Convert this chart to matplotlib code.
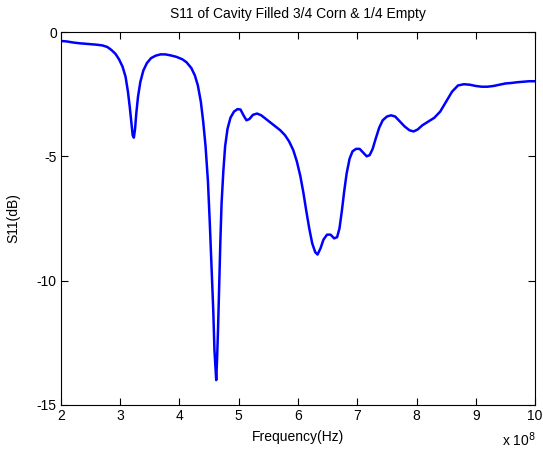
import numpy as np
import matplotlib.pyplot as plt
from matplotlib.ticker import FuncFormatter

# S11 sweep, frequency in units of 1e8 Hz
freq_e8 = [2.00, 2.10, 2.20, 2.30, 2.40, 2.50, 2.60, 2.70, 2.78, 2.85,
           2.92, 2.98, 3.04, 3.09, 3.13, 3.16, 3.19, 3.21, 3.23, 3.25,
           3.27, 3.30, 3.34, 3.39, 3.45, 3.52, 3.60, 3.68, 3.76, 3.85,
           3.95, 4.05, 4.12, 4.20, 4.26, 4.31, 4.36, 4.40, 4.44, 4.48,
           4.51, 4.54, 4.57, 4.59, 4.61, 4.62, 4.635, 4.65, 4.67, 4.69,
           4.71, 4.74, 4.77, 4.81, 4.86, 4.92, 4.98, 5.03, 5.08, 5.13,
           5.18, 5.24, 5.31, 5.38, 5.46, 5.54, 5.62, 5.70, 5.78, 5.85,
           5.92, 5.98, 6.04, 6.09, 6.14, 6.19, 6.24, 6.29, 6.33, 6.38,
           6.43, 6.49, 6.55, 6.61, 6.66, 6.70, 6.74, 6.78, 6.82, 6.87,
           6.92, 6.98, 7.04, 7.10, 7.16, 7.21, 7.26, 7.31, 7.37, 7.43,
           7.50, 7.57, 7.64, 7.72, 7.80, 7.88, 7.95, 8.02, 8.10, 8.20,
           8.30, 8.40, 8.50, 8.60, 8.70, 8.80, 8.90, 9.00, 9.10, 9.20,
           9.30, 9.40, 9.50, 9.60, 9.70, 9.80, 9.90, 10.00]
s11_db = [-0.36, -0.38, -0.42, -0.45, -0.47, -0.49, -0.51, -0.54, -0.60, -0.72,
          -0.88, -1.10, -1.40, -1.80, -2.40, -3.00, -3.70, -4.15, -4.25, -3.90,
          -3.30, -2.60, -2.00, -1.55, -1.25, -1.05, -0.95, -0.90, -0.90, -0.94,
          -1.00, -1.10, -1.22, -1.45, -1.75, -2.15, -2.80, -3.60, -4.60, -6.00,
          -7.60, -9.40, -11.20, -12.80, -13.60, -14.00, -13.10, -12.00, -10.20, -8.40,
          -6.90, -5.60, -4.60, -3.90, -3.45, -3.20, -3.10, -3.12, -3.35, -3.55,
          -3.50, -3.33, -3.28, -3.35, -3.50, -3.65, -3.80, -3.95, -4.15, -4.40,
          -4.75, -5.20, -5.80, -6.45, -7.20, -7.90, -8.50, -8.85, -8.95, -8.70,
          -8.35, -8.15, -8.15, -8.30, -8.25, -7.90, -7.20, -6.40, -5.70, -5.10,
          -4.80, -4.70, -4.70, -4.85, -5.00, -4.95, -4.70, -4.30, -3.85, -3.55,
          -3.40, -3.35, -3.40, -3.60, -3.80, -3.95, -4.00, -3.92, -3.75, -3.60,
          -3.45, -3.20, -2.80, -2.40, -2.15, -2.10, -2.12, -2.17, -2.20, -2.20,
          -2.17, -2.12, -2.07, -2.05, -2.02, -2.00, -1.98, -1.98]

x_ticks_e8 = [2, 3, 4, 5, 6, 7, 8, 9, 10]
y_ticks = [0, -5, -10, -15]

plt.rcParams['font.family'] = ['Liberation Sans', 'DejaVu Sans']
plt.rcParams['font.size'] = 10
plt.rcParams['axes.unicode_minus'] = False

freq_hz = np.array(freq_e8) * 1e8

fig = plt.figure(figsize=(5.43, 4.54), dpi=100)
ax = fig.add_axes([0.1123, 0.108, 0.873, 0.8215])
ax.plot(freq_hz, s11_db, color='#0000ff', linewidth=1.8)

ax.set_xlim(2e8, 10e8)
ax.set_ylim(-15, 0)
ax.set_xticks(np.array(x_ticks_e8) * 1e8)
ax.set_yticks(y_ticks)
ax.xaxis.set_major_formatter(FuncFormatter(lambda v, p: f"{v / 1e8:g}"))
ax.tick_params(direction='in', top=True, right=True, length=5, width=0.8,
               pad=3, labelsize=10)
for s in ax.spines.values():
    s.set_linewidth(0.8)

ax.set_title('S11 of Cavity Filled 3/4 Corn & 1/4 Empty', fontsize=10, pad=10)
ax.set_xlabel('Frequency(Hz)', fontsize=10, labelpad=5)
ax.set_ylabel('S11(dB)', fontsize=10, labelpad=12)
fig.text(0.925, 0.012, r'x 10$^8$', fontsize=10, ha='left', va='bottom')

fig.savefig('out.png', dpi=100)
